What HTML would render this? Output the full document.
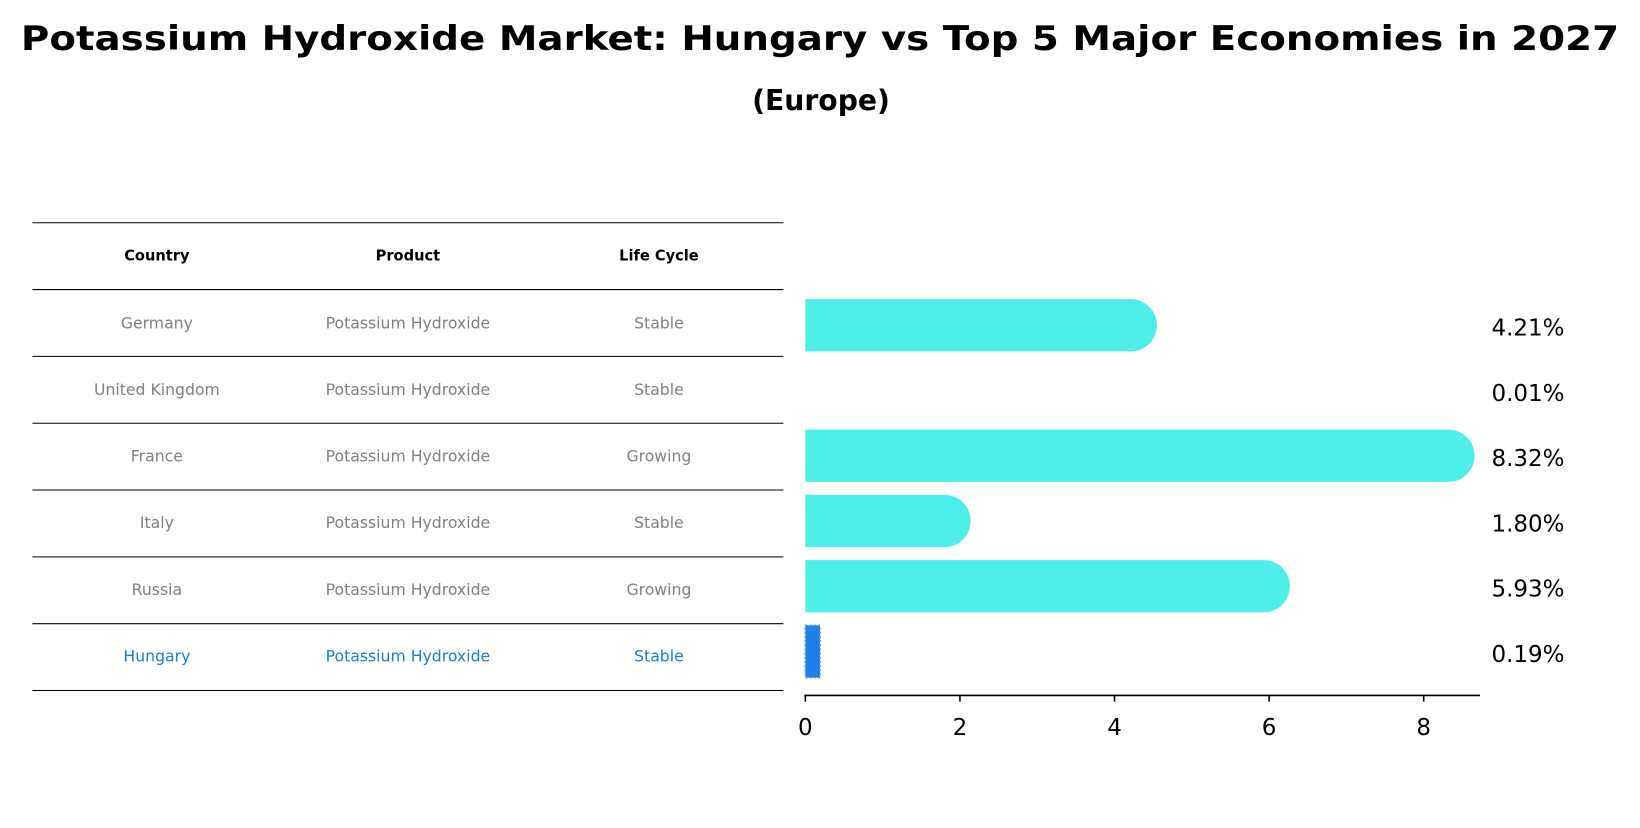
<!DOCTYPE html>
<html><head><meta charset="utf-8"><style>
body{margin:0;background:#fff}
</style></head><body>
<svg width="1640" height="823" viewBox="0 0 1568 787" preserveAspectRatio="none" xmlns="http://www.w3.org/2000/svg" font-family="DejaVu Sans, Liberation Sans, sans-serif">
<text x="784" y="48" text-anchor="middle" font-size="32" font-weight="bold" textLength="1528" lengthAdjust="spacingAndGlyphs">Potassium Hydroxide Market: Hungary vs Top 5 Major Economies in 2027</text>
<text x="785" y="105" text-anchor="middle" font-size="27" font-weight="bold">(Europe)</text>
<g id="table"></g>
<g id="bars"></g>
<g id="axis"></g>
</svg>
<script>
const countries=["Germany","United Kingdom","France","Italy","Russia","Hungary"];
const products=["Potassium Hydroxide","Potassium Hydroxide","Potassium Hydroxide","Potassium Hydroxide","Potassium Hydroxide","Potassium Hydroxide"];
const cycles=["Stable","Stable","Growing","Stable","Growing","Stable"];
const values=[4.21,0.01,8.32,1.80,5.93,0.19];
const ticks=[0,2,4,6,8];
const NS="http://www.w3.org/2000/svg";
function mk(tag,attrs,parent){const e=document.createElementNS(NS,tag);for(const k in attrs)e.setAttribute(k,attrs[k]);parent.appendChild(e);return e;}
const xs=v=>770+v*73.9;
const barY=i=>311+i*62.4;
const table=document.getElementById('table'),bars=document.getElementById('bars'),axis=document.getElementById('axis');
const colX=[150,390,630];
["Country","Product","Life Cycle"].forEach((h,j)=>{const t=mk('text',{x:colX[j],y:249,'text-anchor':'middle','font-size':14,'font-weight':'bold'},table);t.textContent=h;

});
for(let k=0;k<8;k++){const y=213+k*63.9;const l=mk('line',{x1:31,x2:749,y1:y,y2:y,stroke:'#000','stroke-width':1},table);

}
countries.forEach((c,i)=>{
 const y=314+i*63.7, col=i==5?'#1a7fd4':'#808080';
 [c,products[i],cycles[i]].forEach((s,j)=>{const t=mk('text',{x:colX[j],y:y,'text-anchor':'middle','font-size':15,fill:col},table);t.textContent=s;
 
 });
 const cy=barY(i), h=50, w=xs(values[i])-770;
 if(i==5){
  const r=mk('rect',{x:770,y:cy-h/2,width:w,height:h,fill:'#1f80e8',stroke:'#4a9ae8','stroke-width':1.5,'stroke-dasharray':'2 2'},bars);
  
  
 } else if(values[i]>0.05){
  const p=mk('path',{d:`M770 ${cy-h/2} H${770+w} A${h/2} ${h/2} 0 0 1 ${770+w} ${cy+h/2} H770 Z`,fill:'#4deeea'},bars);
  
  
 }
 const t=mk('text',{x:1426,y:cy+10,'text-anchor':'start','font-size':22},bars);t.textContent=values[i].toFixed(2)+'%';
 
 
});
const al=mk('line',{x1:769,x2:1415,y1:665,y2:665,stroke:'#000','stroke-width':1.5},axis);


ticks.forEach(v=>{const tl=mk('line',{x1:xs(v),x2:xs(v),y1:665,y2:671,stroke:'#000','stroke-width':1.5},axis);


const t=mk('text',{x:xs(v),y:703,'text-anchor':'middle','font-size':22},axis);t.textContent=v;

});
</script>
</body></html>
